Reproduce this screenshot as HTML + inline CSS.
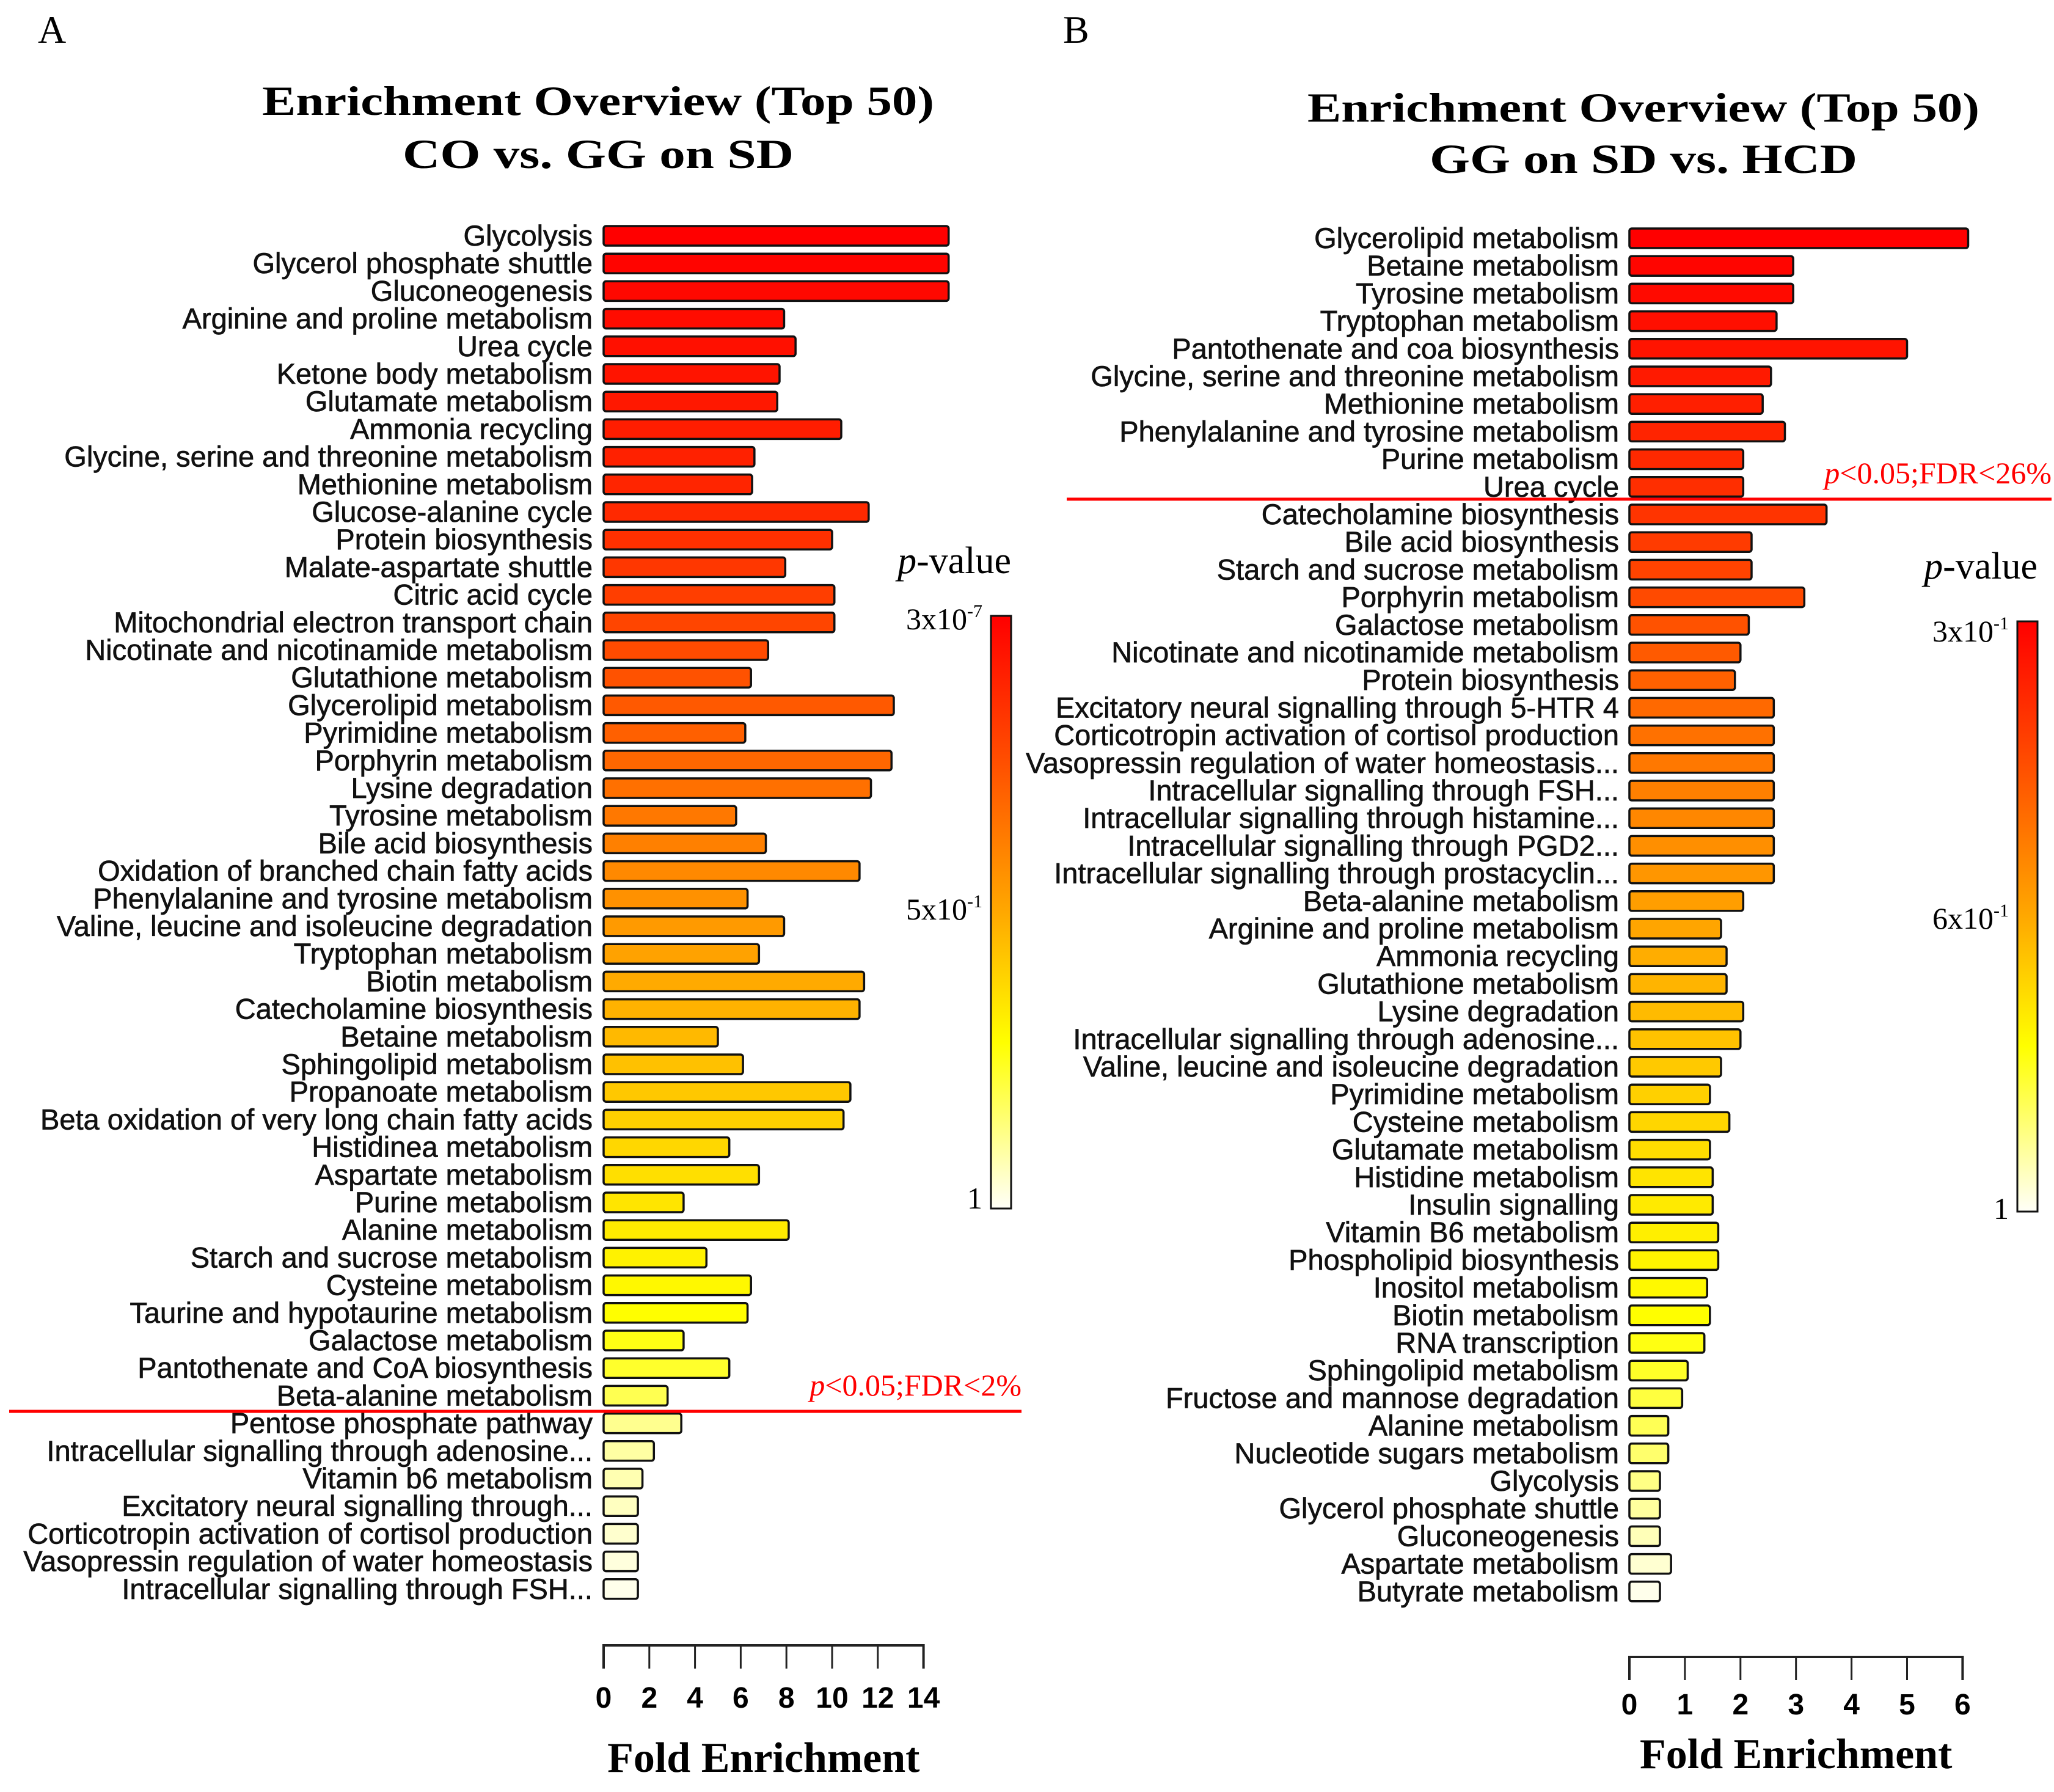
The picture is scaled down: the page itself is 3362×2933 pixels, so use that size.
<!DOCTYPE html>
<html><head><meta charset="utf-8"><style>
html,body{margin:0;padding:0;background:#fff;}
svg{display:block;}
.lbl{font-family:"Liberation Sans",Arial,sans-serif;font-size:47px;fill:#111;stroke:#111;stroke-width:0.7px;}
.tick{font-family:"Liberation Sans",Arial,sans-serif;font-size:48px;font-weight:bold;fill:#000;}
.ser{font-family:"Liberation Serif",serif;fill:#000;}
</style></head><body>
<svg id="chart" width="3362" height="2933" viewBox="0 0 3362 2933" xmlns="http://www.w3.org/2000/svg">
<defs>
<linearGradient id="cbar" x1="0" y1="0" x2="0" y2="1">
<stop offset="0" stop-color="#ff0000"/><stop offset="0.25" stop-color="#ff5000"/><stop offset="0.5" stop-color="#ffa800"/><stop offset="0.72" stop-color="#ffff00"/><stop offset="1" stop-color="#fffff8"/>
</linearGradient>
</defs>
<text class="ser" x="62" y="70" font-size="64">A</text>
<text class="ser" x="1740" y="70" font-size="64">B</text>
<text class="ser" x="979" y="188" font-size="68" font-weight="bold" text-anchor="middle" textLength="1100" lengthAdjust="spacingAndGlyphs">Enrichment Overview (Top 50)</text>
<text class="ser" x="979" y="275" font-size="68" font-weight="bold" text-anchor="middle" textLength="640" lengthAdjust="spacingAndGlyphs">CO vs. GG on SD</text>
<text class="ser" x="2690" y="199" font-size="68" font-weight="bold" text-anchor="middle" textLength="1100" lengthAdjust="spacingAndGlyphs">Enrichment Overview (Top 50)</text>
<text class="ser" x="2690" y="283" font-size="68" font-weight="bold" text-anchor="middle" textLength="700" lengthAdjust="spacingAndGlyphs">GG on SD vs. HCD</text>
<g id="ga"></g><g id="gb"></g>
</svg>
<script>
const catsA=["Glycolysis","Glycerol phosphate shuttle","Gluconeogenesis","Arginine and proline metabolism","Urea cycle","Ketone body metabolism","Glutamate metabolism","Ammonia recycling","Glycine, serine and threonine metabolism","Methionine metabolism","Glucose-alanine cycle","Protein biosynthesis","Malate-aspartate shuttle","Citric acid cycle","Mitochondrial electron transport chain","Nicotinate and nicotinamide metabolism","Glutathione metabolism","Glycerolipid metabolism","Pyrimidine metabolism","Porphyrin metabolism","Lysine degradation","Tyrosine metabolism","Bile acid biosynthesis","Oxidation of branched chain fatty acids","Phenylalanine and tyrosine metabolism","Valine, leucine and isoleucine degradation","Tryptophan metabolism","Biotin metabolism","Catecholamine biosynthesis","Betaine metabolism","Sphingolipid metabolism","Propanoate metabolism","Beta oxidation of very long chain fatty acids","Histidinea metabolism","Aspartate metabolism","Purine metabolism","Alanine metabolism","Starch and sucrose metabolism","Cysteine metabolism","Taurine and hypotaurine metabolism","Galactose metabolism","Pantothenate and CoA biosynthesis","Beta-alanine metabolism","Pentose phosphate pathway","Intracellular signalling through adenosine...","Vitamin b6 metabolism","Excitatory neural signalling through...","Corticotropin activation of cortisol production","Vasopressin regulation of water homeostasis","Intracellular signalling through FSH..."];
const valsA=[15.1,15.1,15.1,7.9,8.4,7.7,7.6,10.4,6.6,6.5,11.6,10.0,7.95,10.1,10.1,7.2,6.45,12.7,6.2,12.6,11.7,5.8,7.1,11.2,6.3,7.9,6.8,11.4,11.2,5.0,6.1,10.8,10.5,5.5,6.8,3.5,8.1,4.5,6.45,6.3,3.5,5.5,2.8,3.4,2.2,1.7,1.5,1.5,1.5,1.5];
const ticksA=[0,2,4,6,8,10,12,14];
const catsB=["Glycerolipid metabolism","Betaine metabolism","Tyrosine metabolism","Tryptophan metabolism","Pantothenate and coa biosynthesis","Glycine, serine and threonine metabolism","Methionine metabolism","Phenylalanine and tyrosine metabolism","Purine metabolism","Urea cycle","Catecholamine biosynthesis","Bile acid biosynthesis","Starch and sucrose metabolism","Porphyrin metabolism","Galactose metabolism","Nicotinate and nicotinamide metabolism","Protein biosynthesis","Excitatory neural signalling through 5-HTR 4","Corticotropin activation of cortisol production","Vasopressin regulation of water homeostasis...","Intracellular signalling through FSH...","Intracellular signalling through histamine...","Intracellular signalling through PGD2...","Intracellular signalling through prostacyclin...","Beta-alanine metabolism","Arginine and proline metabolism","Ammonia recycling","Glutathione metabolism","Lysine degradation","Intracellular signalling through adenosine...","Valine, leucine and isoleucine degradation","Pyrimidine metabolism","Cysteine metabolism","Glutamate metabolism","Histidine metabolism","Insulin signalling","Vitamin B6 metabolism","Phospholipid biosynthesis","Inositol metabolism","Biotin metabolism","RNA transcription","Sphingolipid metabolism","Fructose and mannose degradation","Alanine metabolism","Nucleotide sugars metabolism","Glycolysis","Glycerol phosphate shuttle","Gluconeogenesis","Aspartate metabolism","Butyrate metabolism"];
const valsB=[6.1,2.95,2.95,2.65,5.0,2.55,2.4,2.8,2.05,2.05,3.55,2.2,2.2,3.15,2.15,2.0,1.9,2.6,2.6,2.6,2.6,2.6,2.6,2.6,2.05,1.65,1.75,1.75,2.05,2.0,1.65,1.45,1.8,1.45,1.5,1.5,1.6,1.6,1.4,1.45,1.35,1.05,0.95,0.7,0.7,0.55,0.55,0.55,0.75,0.55];
const ticksB=[0,1,2,3,4,5,6];

const NS="http://www.w3.org/2000/svg";
function mk(tag,attrs,parent,txt){const e=document.createElementNS(NS,tag);for(const k in attrs)e.setAttribute(k,attrs[k]);if(txt!==undefined)e.textContent=txt;parent.appendChild(e);return e;}
function lerp(a,b,t){return Math.round(a+(b-a)*t);}
function ramp(stops,t){for(let i=1;i<stops.length;i++){if(t<=stops[i][0]){const s=stops[i-1],e=stops[i];const u=(t-s[0])/(e[0]-s[0]);return `rgb(${lerp(s[1],e[1],u)},${lerp(s[2],e[2],u)},${lerp(s[3],e[3],u)})`;}}const l=stops[stops.length-1];return `rgb(${l[1]},${l[2]},${l[3]})`;}
const stopsA=[[0,255,0,0],[0.2,255,40,0],[0.38,255,100,0],[0.55,255,170,0],[0.7,255,225,0],[0.8,255,255,0],[0.85,255,255,60],[0.88,255,255,150],[1,255,255,235]];
const stopsB=[[0,255,0,0],[0.2,255,50,0],[0.4,255,125,0],[0.55,255,180,0],[0.7,255,230,0],[0.8,255,255,0],[0.9,255,255,110],[1,255,255,235]];

function panel(g,cats,vals,ticks,cfg){
  const x=v=>cfg.x0+v*cfg.ppu;
  const y=i=>cfg.y0+i*cfg.pitch;
  const n=cats.length;
  cats.forEach((c,i)=>{
    const t=mk('text',{class:'lbl',x:cfg.lx,y:y(i)+16,'text-anchor':'end'},g,c);
    
    
    const r=mk('rect',{x:x(0),y:y(i)-16,width:Math.max(1,x(vals[i])-x(0)),height:32,rx:4,fill:ramp(cfg.stops,i/(n-1)),stroke:'#111','stroke-width':3.5},g);
    
    
  });
  const ax=mk('path',{d:`M${x(0)},${cfg.axY+38} V${cfg.axY} H${x(ticks[ticks.length-1])} V${cfg.axY+38}`,stroke:'#222','stroke-width':4,fill:'none'},g);
  
  
  ticks.forEach(tv=>{
    const tk=mk('line',{x1:x(tv),x2:x(tv),y1:cfg.axY,y2:cfg.axY+38,stroke:'#222','stroke-width':3},g);
    
    
    const tl=mk('text',{class:'tick',x:x(tv),y:cfg.axY+cfg.tko,'text-anchor':'middle'},g,String(tv));
    
    
  });
  const xt=mk('text',{class:'ser',x:(x(0)+x(ticks[ticks.length-1]))/2,y:cfg.axY+cfg.fo,'font-size':70,'font-weight':'bold','text-anchor':'middle'},g,'Fold Enrichment');
  
  
  const ln=mk('line',{x1:cfg.line[0],x2:cfg.line[1],y1:cfg.line[2],y2:cfg.line[2],stroke:'#ff0000','stroke-width':5},g);
  
  
  const st=mk('text',{class:'ser',x:cfg.line[1],y:cfg.line[2]-26,'font-size':50,'text-anchor':'end',fill:'#ff0000'},g);
  
  
  mk('tspan',{'font-style':'italic',fill:'#ff0000'},st,'p');
  mk('tspan',{fill:'#ff0000'},st,cfg.sig);
  const cb=mk('rect',{x:cfg.cb[0],y:cfg.cb[1],width:cfg.cb[2],height:cfg.cb[3],fill:'url(#cbar)',stroke:'#111','stroke-width':3},g);
  
  
  const pv=mk('text',{class:'ser',x:cfg.cb[0]+cfg.cb[2],y:cfg.cb[1]-70,'font-size':62,'text-anchor':'end'},g);
  
  
  mk('tspan',{'font-style':'italic'},pv,'p');
  mk('tspan',{},pv,'-value');
  cfg.cbl.forEach(([m,e,yy])=>{
    const t=mk('text',{class:'ser',x:cfg.cb[0]-14,y:yy,'font-size':50,'text-anchor':'end',fill:'#222'},g);
    
    
    mk('tspan',{},t,m);
    if(e) mk('tspan',{dy:-20,'font-size':30},t,e);
  });
}
panel(document.getElementById('ga'),catsA,valsA,ticksA,{x0:988,ppu:37.4,y0:386,pitch:45.2,lx:970,axY:2693,tko:102,fo:207,stops:stopsA,line:[15,1672,2310],sig:'<0.05;FDR<2%',cb:[1622,1008,33,970],cbl:[['3x10','-7',1030],['5x10','-1',1505],['1','',1978]]});
panel(document.getElementById('gb'),catsB,valsB,ticksB,{x0:2667,ppu:90.9,y0:390,pitch:45.2,lx:2650,axY:2712,tko:94,fo:182,stops:stopsB,line:[1746,3358,817],sig:'<0.05;FDR<26%',cb:[3302,1017,33,966],cbl:[['3x10','-1',1050],['6x10','-1',1520],['1','',1995]]});
</script>
</body></html>
